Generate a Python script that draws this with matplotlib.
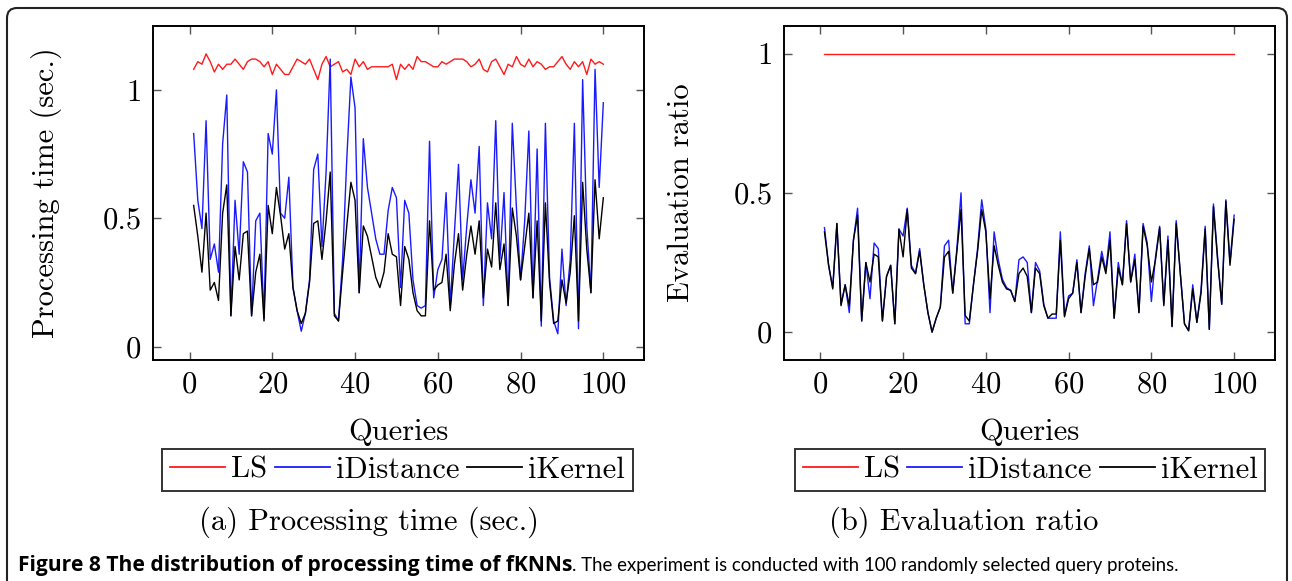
import matplotlib
matplotlib.use("Agg")
import matplotlib.pyplot as plt
import numpy as np
from matplotlib.patches import FancyBboxPatch
from matplotlib.transforms import IdentityTransform

queries = np.arange(1, 101)

# (a) processing time (sec.)
time_ls = [1.08, 1.11, 1.10, 1.14, 1.11, 1.07, 1.10, 1.08, 1.10, 1.10,
           1.12, 1.10, 1.08, 1.11, 1.12, 1.12, 1.11, 1.09, 1.11, 1.06,
           1.10, 1.08, 1.06, 1.06, 1.09, 1.12, 1.11, 1.10, 1.12, 1.08,
           1.04, 1.10, 1.13, 1.09, 1.10, 1.11, 1.07, 1.08, 1.06, 1.12,
           1.09, 1.11, 1.08, 1.09, 1.09, 1.09, 1.09, 1.09, 1.10, 1.04,
           1.10, 1.08, 1.10, 1.08, 1.13, 1.11, 1.11, 1.10, 1.09, 1.09,
           1.11, 1.10, 1.11, 1.12, 1.12, 1.12, 1.11, 1.09, 1.10, 1.12,
           1.08, 1.07, 1.11, 1.12, 1.09, 1.06, 1.10, 1.09, 1.13, 1.10,
           1.09, 1.12, 1.09, 1.11, 1.10, 1.08, 1.09, 1.09, 1.11, 1.13,
           1.10, 1.08, 1.11, 1.09, 1.11, 1.06, 1.12, 1.10, 1.11, 1.10]
time_idist = [0.83, 0.57, 0.46, 0.88, 0.34, 0.40, 0.29, 0.79, 0.98, 0.12,
              0.57, 0.36, 0.72, 0.68, 0.12, 0.49, 0.52, 0.11, 0.83, 0.75,
              1.00, 0.52, 0.50, 0.66, 0.23, 0.14, 0.06, 0.13, 0.26, 0.69,
              0.75, 0.39, 0.68, 1.12, 0.13, 0.10, 0.34, 0.73, 1.05, 0.93,
              0.21, 0.81, 0.62, 0.52, 0.42, 0.36, 0.36, 0.53, 0.62, 0.58,
              0.23, 0.57, 0.52, 0.26, 0.16, 0.15, 0.16, 0.80, 0.19, 0.30,
              0.34, 0.60, 0.16, 0.44, 0.71, 0.26, 0.47, 0.65, 0.52, 0.78,
              0.16, 0.56, 0.42, 0.88, 0.34, 0.60, 0.16, 0.87, 0.54, 0.26,
              0.49, 0.84, 0.19, 0.77, 0.08, 0.87, 0.27, 0.10, 0.05, 0.38,
              0.16, 0.34, 0.87, 0.07, 1.04, 0.47, 0.21, 1.08, 0.62, 0.95]
time_ikernel = [0.55, 0.43, 0.29, 0.52, 0.22, 0.25, 0.18, 0.52, 0.63, 0.12,
                0.39, 0.26, 0.44, 0.45, 0.12, 0.29, 0.36, 0.10, 0.55, 0.44,
                0.62, 0.51, 0.38, 0.44, 0.23, 0.14, 0.09, 0.13, 0.25, 0.48,
                0.49, 0.34, 0.49, 0.68, 0.12, 0.10, 0.29, 0.47, 0.64, 0.57,
                0.21, 0.47, 0.43, 0.35, 0.27, 0.23, 0.29, 0.44, 0.36, 0.35,
                0.16, 0.39, 0.34, 0.21, 0.14, 0.12, 0.12, 0.49, 0.22, 0.24,
                0.25, 0.36, 0.14, 0.32, 0.44, 0.22, 0.36, 0.47, 0.36, 0.49,
                0.19, 0.38, 0.31, 0.56, 0.30, 0.40, 0.16, 0.54, 0.43, 0.26,
                0.39, 0.52, 0.19, 0.49, 0.10, 0.56, 0.25, 0.09, 0.10, 0.26,
                0.17, 0.29, 0.51, 0.10, 0.64, 0.38, 0.21, 0.65, 0.42, 0.58]

# (b) evaluation ratio
ratio_ls = [1.0] * 100
ratio_idist = [0.375, 0.24, 0.16, 0.39, 0.10, 0.17, 0.07, 0.33, 0.445, 0.04,
               0.25, 0.12, 0.32, 0.30, 0.04, 0.20, 0.24, 0.03, 0.37, 0.345,
               0.445, 0.24, 0.21, 0.30, 0.17, 0.07, 0.00, 0.05, 0.09, 0.31,
               0.33, 0.14, 0.30, 0.50, 0.03, 0.03, 0.17, 0.30, 0.475, 0.37,
               0.07, 0.36, 0.26, 0.19, 0.16, 0.15, 0.11, 0.26, 0.27, 0.25,
               0.07, 0.25, 0.22, 0.10, 0.05, 0.05, 0.05, 0.36, 0.06, 0.13,
               0.14, 0.26, 0.07, 0.21, 0.31, 0.095, 0.19, 0.29, 0.22, 0.36,
               0.05, 0.25, 0.17, 0.40, 0.18, 0.28, 0.07, 0.39, 0.32, 0.11,
               0.27, 0.38, 0.10, 0.345, 0.02, 0.40, 0.21, 0.03, 0.005, 0.17,
               0.035, 0.15, 0.38, 0.01, 0.46, 0.27, 0.10, 0.475, 0.25, 0.42]
ratio_ikernel = [0.36, 0.24, 0.155, 0.39, 0.095, 0.17, 0.095, 0.33, 0.42, 0.04,
                 0.25, 0.18, 0.28, 0.27, 0.04, 0.20, 0.24, 0.03, 0.37, 0.27,
                 0.44, 0.23, 0.21, 0.29, 0.17, 0.07, 0.00, 0.05, 0.09, 0.27,
                 0.29, 0.14, 0.29, 0.44, 0.06, 0.04, 0.17, 0.29, 0.44, 0.36,
                 0.12, 0.31, 0.24, 0.18, 0.155, 0.15, 0.11, 0.21, 0.23, 0.20,
                 0.07, 0.23, 0.21, 0.095, 0.05, 0.065, 0.065, 0.33, 0.055, 0.12,
                 0.14, 0.25, 0.07, 0.20, 0.30, 0.17, 0.18, 0.27, 0.21, 0.33,
                 0.05, 0.23, 0.17, 0.39, 0.18, 0.26, 0.07, 0.38, 0.31, 0.18,
                 0.26, 0.375, 0.095, 0.33, 0.02, 0.39, 0.21, 0.03, 0.005, 0.155,
                 0.035, 0.14, 0.37, 0.01, 0.45, 0.26, 0.10, 0.47, 0.24, 0.405]

series_names = ["LS", "iDistance", "iKernel"]
colors = ["#ff1a1a", "#1a1aff", "black"]

plt.rcParams["font.family"] = "cmr10"
plt.rcParams["mathtext.fontset"] = "cm"
plt.rcParams["axes.formatter.use_mathtext"] = True

W, H = 1292, 581
fig = plt.figure(figsize=(W / 100, H / 100), dpi=100)
fs = 22


def px_axes(x0, y0, x1, y1):
    return fig.add_axes([x0 / W, 1 - y1 / H, (x1 - x0) / W, (y1 - y0) / H])


def style(ax, ylim, ylabel, ylab_x):
    ax.set_xlim(-8.9, 109.9)
    ax.set_ylim(*ylim)
    ax.set_xticks([0, 20, 40, 60, 80, 100])
    ax.set_yticks([0, 0.5, 1], labels=["0", "0.5", "1"])
    ax.tick_params(direction="in", length=6, width=1, color="#555555",
                   top=True, right=True, labelsize=fs, pad=8)
    for s in ax.spines.values():
        s.set_linewidth(1.4)
    ax.set_xlabel("Queries", fontsize=fs)
    ax.xaxis.set_label_coords(0.5, -0.175)
    ax.set_ylabel(ylabel, fontsize=fs)
    ax.yaxis.set_label_coords(ylab_x, 0.5)


ax1 = px_axes(152.7, 25.7, 644.3, 360)
for vals, name, c in zip([time_ls, time_idist, time_ikernel], series_names, colors):
    ax1.plot(queries, vals, color=c, lw=1.0, label=name)
style(ax1, (-0.052, 1.25), "Processing time (sec.)", -0.184)

ax2 = px_axes(783.5, 25.7, 1275.1, 360)
for vals, name, c in zip([ratio_ls, ratio_idist, ratio_ikernel], series_names, colors):
    ax2.plot(queries, vals, color=c, lw=1.0, label=name)
style(ax2, (-0.1, 1.1), "Evaluation ratio", -0.181)

for ax, cx in [(ax1, 397.5), (ax2, 1030)]:
    leg = ax.legend(loc="center", bbox_to_anchor=(cx / W, 1 - 470 / H),
                    bbox_transform=fig.transFigure, ncol=3, fontsize=fs,
                    frameon=True, fancybox=False, edgecolor="black",
                    handlelength=1.8, handletextpad=0.2, columnspacing=0.25,
                    borderpad=0.25, borderaxespad=0)
    leg.get_frame().set_linewidth(1.4)
    for line in leg.get_lines():
        line.set_linewidth(1.3)

fig.text(369 / W, 1 - 522 / H, "(a) Processing time (sec.)", fontsize=fs,
         ha="center", va="center")
fig.text(963.5 / W, 1 - 522 / H, "(b) Evaluation ratio", fontsize=fs,
         ha="center", va="center")

# caption line below the panels
cap_y = 1 - 565 / H
bold = fig.text(18 / W, cap_y, "Figure 8 The distribution of processing time of fKNNs",
                fontsize=13, fontweight="bold", family="Open Sans",
                ha="left", va="center")
rest = fig.text(0.5, cap_y,
                ". The experiment is conducted with 100 randomly selected query proteins.",
                fontsize=13, family="Lato", ha="left", va="center")
fig.canvas.draw()
r = fig.canvas.get_renderer()
cap_fs = 13 * 547 / bold.get_window_extent(r).width
bold.set_fontsize(cap_fs)
rest.set_fontsize(min(cap_fs, 13 * 605 / rest.get_window_extent(r).width))
fig.canvas.draw()
rest.set_x(bold.get_window_extent(r).x1 / W)

# outer frame with rounded top corners
frame = FancyBboxPatch((7, -30), 1280, H - 8 + 30,
                       boxstyle="round,pad=0,rounding_size=10",
                       transform=IdentityTransform(), fill=False,
                       edgecolor="#222222", lw=1.5)
fig.patches.append(frame)

fig.savefig("out.png", dpi=100)
